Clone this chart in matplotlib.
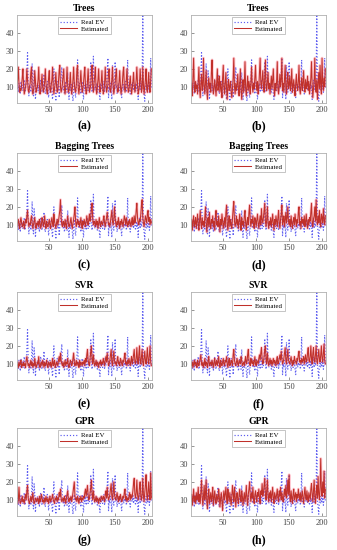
import numpy as np
import matplotlib
matplotlib.use("Agg")
import matplotlib.pyplot as plt

plt.rcParams["font.family"] = ["Liberation Serif", "DejaVu Serif"]

# measured electric vehicle load (same in every panel)
real_ev = [
    9, 11, 7, 12, 10, 6, 13, 9, 11, 8,
    10, 14, 7, 9, 12, 18, 29, 12, 5, 9,
    11, 7, 10, 23, 8, 5, 19, 13, 3, 10,
    9, 12, 8, 11, 6, 10, 14, 9, 7, 12,
    10, 17, 8, 6, 11, 9, 13, 10, 4, 9,
    12, 8, 10, 6, 3, 11, 20, 9, 7, 2,
    10, 13, 8, 11, 4, 9, 12, 15, 21, 10,
    8, 11, 6, 9, 13, 10, 7, 18, 9, 3,
    11, 8, 12, 10, 6, 2, 9, 13, 7, 4,
    10, 14, 25, 11, 8, 12, 9, 6, 10, 13,
    8, 3, 11, 9, 12, 7, 10, 14, 8, 11,
    9, 13, 24, 10, 7, 12, 27, 11, 8, 10,
    9, 12, 7, 11, 10, 6, 3, 12, 9, 11,
    8, 10, 13, 7, 11, 9, 12, 18, 26, 4,
    10, 8, 12, 9, 3, 22, 11, 7, 13, 24,
    9, 11, 6, 10, 12, 8, 9, 11, 7, 4,
    10, 12, 8, 11, 9, 13, 7, 10, 25, 9,
    11, 8, 6, 10, 12, 9, 13, 8, 11, 10,
    7, 12, 9, 11, 3, 10, 14, 8, 12, 9,
    11, 52, 9, 6, 2, 10, 12, 8, 11, 9,
    13, 7, 10, 26, 9,
]

est_trees_a = [
    10, 14, 21, 12, 7, 9, 8, 11, 15, 20,
    11, 6, 8, 10, 13, 20, 14, 8, 7, 10,
    12, 18, 21, 9, 6, 8, 11, 19, 13, 7,
    9, 10, 14, 21, 11, 6, 8, 12, 17, 10,
    7, 9, 13, 20, 12, 8, 6, 10, 15, 19,
    9, 7, 11, 14, 21, 10, 6, 9, 12, 18,
    11, 7, 8, 13, 19, 22, 10, 7, 9, 12,
    16, 20, 9, 6, 10, 13, 21, 11, 7, 8,
    12, 18, 10, 6, 9, 14, 21, 12, 8, 7,
    11, 20, 22, 9, 6, 10, 13, 19, 11, 7,
    9, 12, 17, 21, 10, 6, 8, 13, 20, 12,
    7, 9, 11, 18, 22, 10, 7, 12, 16, 21,
    9, 6, 10, 14, 20, 11, 7, 9, 13, 19,
    10, 6, 8, 12, 21, 13, 7, 9, 11, 18,
    20, 9, 7, 10, 14, 21, 11, 6, 9, 12,
    17, 20, 10, 7, 8, 13, 19, 11, 6, 9,
    12, 18, 21, 10, 7, 9, 14, 20, 11, 7,
    8, 12, 16, 10, 6, 9, 13, 18, 11, 7,
    10, 14, 21, 12, 6, 8, 11, 20, 13, 7,
    9, 21, 11, 6, 10, 14, 20, 9, 7, 12,
    18, 10, 7, 13, 20,
]

est_trees_b = [
    12, 8, 5, 15, 26, 10, 7, 13, 9, 11,
    6, 14, 21, 9, 4, 12, 17, 8, 11, 26,
    10, 6, 13, 19, 8, 3, 11, 15, 9, 12,
    7, 18, 25, 11, 6, 9, 14, 10, 5, 12,
    20, 8, 11, 16, 7, 13, 9, 4, 15, 22,
    10, 6, 12, 18, 9, 3, 11, 14, 8, 10,
    13, 7, 4, 9, 15, 26, 10, 6, 12, 8,
    11, 17, 9, 5, 13, 20, 8, 3, 10, 14,
    7, 12, 24, 9, 5, 11, 16, 8, 13, 10,
    6, 14, 21, 10, 7, 12, 9, 15, 22, 11,
    8, 13, 6, 10, 18, 26, 12, 9, 14, 19,
    11, 7, 15, 25, 10, 8, 13, 18, 9, 12,
    6, 11, 16, 9, 14, 20, 10, 5, 12, 8,
    13, 24, 9, 6, 11, 17, 10, 14, 26, 8,
    12, 7, 15, 22, 10, 6, 13, 18, 9, 11,
    16, 8, 12, 20, 7, 10, 14, 9, 5, 12,
    17, 10, 8, 13, 22, 9, 6, 11, 15, 8,
    12, 19, 10, 7, 14, 9, 11, 16, 8, 13,
    6, 10, 15, 24, 11, 4, 9, 13, 26, 10,
    7, 14, 3, 12, 18, 9, 22, 11, 6, 26,
    13, 8, 15, 10, 20,
]

est_bag_c = [
    9, 11, 13, 10, 8, 12, 14, 11, 9, 10,
    12, 8, 10, 13, 11, 15, 18, 12, 9, 11,
    10, 13, 15, 11, 8, 10, 12, 14, 9, 8,
    11, 10, 12, 9, 13, 11, 8, 10, 14, 12,
    9, 11, 15, 10, 8, 12, 10, 9, 11, 13,
    10, 8, 12, 14, 11, 9, 16, 12, 10, 8,
    11, 13, 10, 12, 15, 18, 24, 14, 10, 9,
    12, 11, 9, 13, 10, 8, 12, 15, 11, 9,
    10, 12, 14, 10, 8, 11, 13, 16, 20, 12,
    9, 11, 13, 10, 12, 9, 11, 14, 10, 8,
    12, 10, 13, 11, 9, 12, 15, 11, 10, 13,
    16, 12, 14, 19, 22, 13, 10, 12, 11, 9,
    13, 10, 12, 8, 11, 14, 10, 9, 12, 11,
    10, 13, 15, 11, 9, 12, 14, 17, 13, 10,
    11, 9, 12, 15, 18, 12, 10, 13, 20, 14,
    11, 9, 12, 10, 14, 11, 8, 12, 10, 13,
    11, 9, 12, 15, 13, 10, 14, 11, 9, 12,
    10, 13, 11, 9, 12, 14, 10, 12, 15, 11,
    13, 18, 22, 14, 11, 10, 13, 12, 16, 21,
    24, 14, 11, 9, 12, 15, 13, 11, 16, 18,
    12, 14, 10, 13, 11,
]

est_bag_d = [
    10, 13, 7, 12, 15, 9, 11, 14, 8, 12,
    16, 10, 7, 13, 18, 11, 8, 14, 10, 12,
    9, 15, 20, 11, 6, 12, 14, 9, 17, 10,
    8, 13, 11, 15, 9, 12, 7, 14, 18, 10,
    12, 9, 15, 11, 6, 13, 10, 16, 12, 8,
    11, 14, 9, 17, 21, 10, 7, 12, 15, 9,
    13, 10, 8, 14, 19, 23, 12, 9, 11, 15,
    10, 13, 8, 12, 16, 11, 7, 14, 10, 12,
    9, 15, 18, 11, 7, 12, 14, 10, 17, 21,
    12, 9, 13, 11, 15, 10, 8, 14, 12, 9,
    13, 16, 11, 8, 12, 15, 10, 19, 13, 11,
    14, 18, 22, 12, 9, 13, 20, 11, 8, 12,
    10, 14, 9, 12, 16, 11, 7, 13, 10, 15,
    12, 9, 14, 18, 11, 8, 13, 16, 21, 10,
    12, 15, 9, 13, 17, 11, 14, 20, 12, 10,
    13, 9, 15, 11, 8, 12, 14, 10, 16, 12,
    9, 13, 11, 17, 20, 10, 12, 8, 14, 11,
    13, 10, 15, 9, 12, 16, 11, 8, 13, 10,
    14, 12, 17, 22, 11, 9, 13, 15, 20, 12,
    24, 13, 10, 15, 11, 18, 12, 9, 16, 14,
    11, 19, 13, 10, 15,
]

est_svr_e = [
    9, 10, 8, 11, 9, 10, 12, 8, 10, 9,
    11, 9, 10, 8, 12, 14, 11, 9, 10, 8,
    10, 12, 9, 11, 8, 10, 9, 13, 10, 8,
    9, 11, 10, 14, 9, 8, 10, 11, 9, 12,
    10, 8, 11, 9, 10, 12, 9, 8, 11, 10,
    9, 11, 8, 10, 13, 9, 10, 12, 8, 9,
    11, 10, 9, 12, 14, 11, 16, 12, 10, 9,
    11, 8, 10, 12, 9, 11, 10, 13, 9, 8,
    10, 12, 11, 9, 10, 13, 16, 11, 9, 10,
    12, 9, 11, 10, 8, 12, 9, 11, 10, 9,
    11, 10, 12, 9, 13, 11, 15, 18, 12, 10,
    9, 13, 17, 20, 12, 10, 15, 11, 9, 10,
    12, 9, 11, 10, 8, 11, 10, 12, 9, 11,
    10, 13, 11, 9, 12, 14, 11, 16, 12, 9,
    10, 12, 15, 18, 11, 9, 13, 17, 12, 10,
    11, 9, 12, 14, 10, 11, 9, 13, 12, 10,
    9, 12, 11, 14, 16, 10, 11, 9, 12, 10,
    13, 11, 9, 12, 14, 10, 12, 15, 18, 11,
    10, 13, 19, 12, 10, 15, 20, 12, 10, 14,
    18, 11, 9, 13, 17, 12, 10, 14, 19, 12,
    10, 15, 20, 11, 9,
]

est_svr_f = [
    10, 9, 11, 8, 10, 12, 9, 11, 10, 8,
    12, 10, 9, 11, 13, 15, 10, 9, 11, 8,
    10, 13, 9, 11, 10, 8, 12, 14, 9, 10,
    11, 9, 12, 10, 8, 11, 13, 9, 10, 12,
    9, 11, 14, 10, 8, 12, 10, 9, 11, 13,
    10, 9, 12, 11, 14, 10, 8, 11, 13, 9,
    10, 12, 11, 9, 15, 18, 12, 10, 9, 11,
    13, 10, 9, 12, 11, 10, 14, 12, 9, 10,
    11, 9, 12, 14, 10, 11, 15, 18, 12, 10,
    9, 13, 11, 10, 12, 9, 11, 14, 10, 9,
    12, 11, 10, 13, 15, 12, 16, 19, 13, 10,
    11, 14, 18, 20, 12, 10, 16, 12, 9, 11,
    13, 10, 12, 9, 11, 13, 10, 12, 11, 9,
    12, 14, 10, 11, 13, 15, 12, 17, 13, 10,
    11, 13, 16, 19, 12, 10, 14, 18, 12, 11,
    10, 12, 14, 11, 9, 12, 10, 14, 12, 11,
    10, 13, 12, 15, 17, 11, 12, 10, 13, 11,
    12, 14, 10, 13, 15, 11, 12, 16, 19, 12,
    11, 14, 20, 13, 10, 16, 19, 12, 11, 15,
    20, 12, 10, 14, 18, 13, 11, 15, 20, 13,
    11, 16, 21, 12, 10,
]

est_gpr_g = [
    9, 8, 10, 17, 11, 8, 9, 10, 12, 9,
    10, 8, 11, 13, 10, 15, 18, 11, 9, 8,
    10, 12, 9, 11, 14, 10, 8, 9, 11, 10,
    9, 11, 10, 8, 12, 9, 10, 13, 11, 9,
    10, 8, 11, 9, 12, 10, 9, 11, 8, 10,
    12, 9, 10, 11, 13, 10, 9, 8, 11, 10,
    12, 9, 11, 10, 14, 12, 16, 11, 9, 10,
    11, 9, 12, 10, 8, 11, 13, 15, 10, 9,
    11, 10, 12, 9, 11, 14, 17, 20, 12, 10,
    11, 9, 12, 10, 8, 11, 10, 12, 9, 11,
    10, 12, 11, 14, 16, 12, 15, 18, 13, 10,
    11, 14, 17, 21, 13, 10, 15, 11, 9, 10,
    12, 9, 11, 10, 8, 11, 10, 9, 12, 11,
    10, 12, 11, 9, 13, 15, 11, 17, 12, 10,
    11, 13, 16, 19, 12, 10, 14, 20, 13, 11,
    10, 12, 14, 11, 9, 12, 10, 13, 11, 9,
    10, 12, 11, 14, 16, 10, 12, 9, 11, 10,
    12, 14, 10, 13, 11, 12, 15, 19, 22, 13,
    11, 14, 21, 13, 10, 12, 17, 20, 12, 10,
    13, 22, 12, 9, 14, 18, 24, 13, 10, 15,
    20, 12, 10, 25, 11,
]

est_gpr_h = [
    10, 13, 7, 11, 16, 9, 12, 8, 14, 10,
    12, 17, 9, 13, 8, 15, 21, 11, 7, 13,
    18, 10, 14, 21, 9, 5, 12, 16, 8, 11,
    14, 9, 12, 17, 7, 11, 15, 10, 8, 13,
    11, 9, 16, 12, 6, 11, 14, 9, 4, 12,
    15, 10, 13, 17, 11, 8, 16, 12, 9, 14,
    10, 7, 12, 18, 13, 9, 17, 11, 6, 12,
    14, 10, 8, 13, 16, 11, 9, 15, 12, 7,
    11, 14, 9, 12, 18, 10, 7, 13, 16, 20,
    12, 9, 14, 11, 17, 10, 8, 13, 15, 11,
    9, 14, 12, 16, 11, 8, 15, 13, 19, 12,
    14, 18, 22, 13, 10, 16, 21, 12, 9, 14,
    11, 15, 9, 13, 17, 11, 8, 14, 12, 10,
    13, 16, 11, 9, 15, 12, 17, 10, 14, 11,
    9, 13, 16, 12, 18, 11, 14, 21, 13, 24,
    12, 9, 15, 11, 8, 13, 16, 10, 12, 14,
    9, 13, 11, 16, 12, 10, 14, 9, 12, 15,
    11, 8, 13, 17, 12, 10, 15, 11, 9, 14,
    12, 10, 16, 19, 13, 9, 15, 21, 12, 8,
    14, 18, 11, 23, 13, 10, 17, 33, 15, 12,
    20, 14, 26, 11, 16,
]

titles = ["Trees", "Trees", "Bagging Trees", "Bagging Trees",
          "SVR", "SVR", "GPR", "GPR"]
panel_labels = ["(a)", "(b)", "(c)", "(d)", "(e)", "(f)", "(g)", "(h)"]
estimates = [est_trees_a, est_trees_b, est_bag_c, est_bag_d,
             est_svr_e, est_svr_f, est_gpr_g, est_gpr_h]

W, H = 337, 550
fig = plt.figure(figsize=(W / 100, H / 100), dpi=100)

col_x = [(17, 152), (191, 326)]
row_y = [(15, 103), (153, 241), (292, 380), (428, 516)]
label_y = [126, 265, 404, 540]

for i in range(8):
    r, c = divmod(i, 2)
    x0, x1 = col_x[c]
    y0, y1 = row_y[r]
    ax = fig.add_axes([x0 / W, 1 - y1 / H, (x1 - x0) / W, (y1 - y0) / H])
    xr = np.arange(1, len(real_ev) + 1)
    ax.plot(xr, real_ev, ls=":", color="#5c5cf0", lw=0.85, label="Real EV")
    est = estimates[i]
    xe = np.arange(1, len(est) + 1)
    ax.plot(xe, est, color="#ff4d6d", lw=2.0, alpha=0.3)
    ax.plot(xe, est, color="#c0302a", lw=0.75, label="Estimated")
    ax.set_xlim(1, 206)
    ax.set_ylim(1, 50)
    ax.set_xticks([50, 100, 150, 200])
    ax.set_yticks([10, 20, 30, 40])
    ax.tick_params(labelsize=6, length=2, width=0.4, colors="#444444",
                   direction="in", pad=2)
    for s in ax.spines.values():
        s.set_color("#b0b0b0")
        s.set_linewidth(0.6)
    ax.set_title(titles[i], fontsize=7, fontweight="bold", pad=3)
    leg = ax.legend(loc="upper center", fontsize=5, handlelength=2.4,
                    borderpad=0.3, labelspacing=0.1, handletextpad=0.5,
                    fancybox=False, borderaxespad=0.3)
    leg.get_frame().set_edgecolor("#9a9a9a")
    leg.get_frame().set_linewidth(0.5)
    fig.text((x0 + x1) / 2 / W, 1 - label_y[r] / H, panel_labels[i],
             ha="center", va="center", fontsize=8.5, fontweight="bold")

fig.savefig("out.png", dpi=100)
